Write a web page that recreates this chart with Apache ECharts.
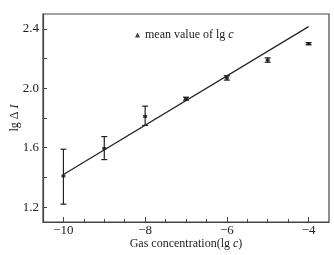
<!DOCTYPE html>
<html><head><meta charset="utf-8">
<script src="https://cdn.jsdelivr.net/npm/echarts@6/dist/echarts.min.js"></script>
<style>html,body{margin:0;padding:0;background:#fff}#c{width:334px;height:255px}</style>
</head><body><div id="c"></div>
<script>
const xVals = [-10, -9, -8, -7, -6, -5, -4];
const meanVals = [1.41, 1.595, 1.81, 1.93, 2.07, 2.19, 2.30];
const lowVals = [1.22, 1.52, 1.75, 1.92, 2.055, 2.175, 2.293];
const highVals = [1.59, 1.675, 1.88, 1.94, 2.085, 2.205, 2.307];
const fitX = [-10, -4];
const fitY = [1.42, 2.415];
const xMajor = [-10, -8, -6, -4];
const xMinor = [-10, -9.5, -9, -8.5, -8, -7.5, -7, -6.5, -6, -5.5, -5, -4.5, -4];
const yMajor = [1.2, 1.6, 2.0, 2.4];
const yAll = [1.2, 1.4, 1.6, 1.8, 2.0, 2.2, 2.4];

const font = 'Liberation Serif';
const chart = echarts.init(document.getElementById('c'));
const minus = v => String(v).replace('-', '\u2212');
chart.setOption({
  animation: false,
  textStyle: {fontFamily: font},
  grid: {left: 43, right: 5, top: 14, bottom: 33, containLabel: false, outerBoundsMode: 'none', show: true, borderColor: '#444', borderWidth: 1.2},
  legend: {
    left: 130, top: 24, itemWidth: 5, itemHeight: 5, itemGap: 4,
    data: [{name: 'mean', icon: 'triangle'}],
    formatter: () => 'mean value of lg {i|c}',
    textStyle: {fontFamily: font, fontSize: 12, color: '#222', rich: {i: {fontStyle: 'italic', fontFamily: font, fontSize: 12, color: '#222'}}}
  },
  xAxis: [{
    type: 'value', min: -10.5, max: -3.5,
    axisLine: {lineStyle: {color: '#444', width: 1.2}},
    axisTick: {inside: true, length: 5, customValues: xMajor, lineStyle: {color: '#444'}},
    axisLabel: {customValues: xMajor, formatter: minus, color: '#222', fontSize: 13, fontFamily: font, margin: 2},
    splitLine: {show: false},
    name: 'Gas concentration(lg {i|c})', nameLocation: 'middle', nameGap: 16, nameMoveOverlap: false,
    nameTextStyle: {fontSize: 12, color: '#222', fontFamily: font, verticalAlign: 'top', rich: {i: {fontStyle: 'italic', fontSize: 12, fontFamily: font, color: '#222'}}}
  }, {
    type: 'value', min: -10.5, max: -3.5, position: 'bottom',
    axisLine: {show: false},
    axisTick: {inside: true, length: 3, customValues: xMinor, lineStyle: {color: '#444'}},
    axisLabel: {show: false}, splitLine: {show: false}
  }],
  yAxis: {
    type: 'value', min: 1.1, max: 2.5,
    axisLine: {show: true, lineStyle: {color: '#444', width: 1.2}},
    axisTick: {show: true, inside: true, length: 4, customValues: yAll, lineStyle: {color: '#444'}},
    axisLabel: {customValues: yMajor, formatter: v => v.toFixed(1), color: '#222', fontSize: 13, fontFamily: font, margin: 4},
    splitLine: {show: false},
    name: 'lg \u0394 {i|I}', nameLocation: 'middle', nameGap: 22, nameRotate: 90, nameMoveOverlap: false,
    nameTextStyle: {fontSize: 12, color: '#222', fontFamily: font, rich: {i: {fontStyle: 'italic', fontSize: 12, fontFamily: font, color: '#222'}}}
  },
  series: [{
    type: 'line', data: fitX.map((x, i) => [x, fitY[i]]), symbol: 'none',
    lineStyle: {color: '#222', width: 1.2}, silent: true
  }, {
    type: 'custom',
    data: xVals.map((x, i) => [x, lowVals[i], highVals[i]]),
    renderItem: (params, api) => {
      const lo = api.coord([api.value(0), api.value(1)]);
      const hi = api.coord([api.value(0), api.value(2)]);
      const w = 3;
      const st = {stroke: '#222', lineWidth: 1.2};
      return {type: 'group', children: [
        {type: 'line', shape: {x1: lo[0], y1: lo[1], x2: hi[0], y2: hi[1]}, style: st},
        {type: 'line', shape: {x1: lo[0] - w, y1: lo[1], x2: lo[0] + w, y2: lo[1]}, style: st},
        {type: 'line', shape: {x1: hi[0] - w, y1: hi[1], x2: hi[0] + w, y2: hi[1]}, style: st}
      ]};
    }
  }, {
    name: 'mean', type: 'scatter', data: xVals.map((x, i) => [x, meanVals[i]]),
    symbol: 'rect', symbolSize: [4, 3], itemStyle: {color: '#111'}
  }]
});
</script></body></html>
